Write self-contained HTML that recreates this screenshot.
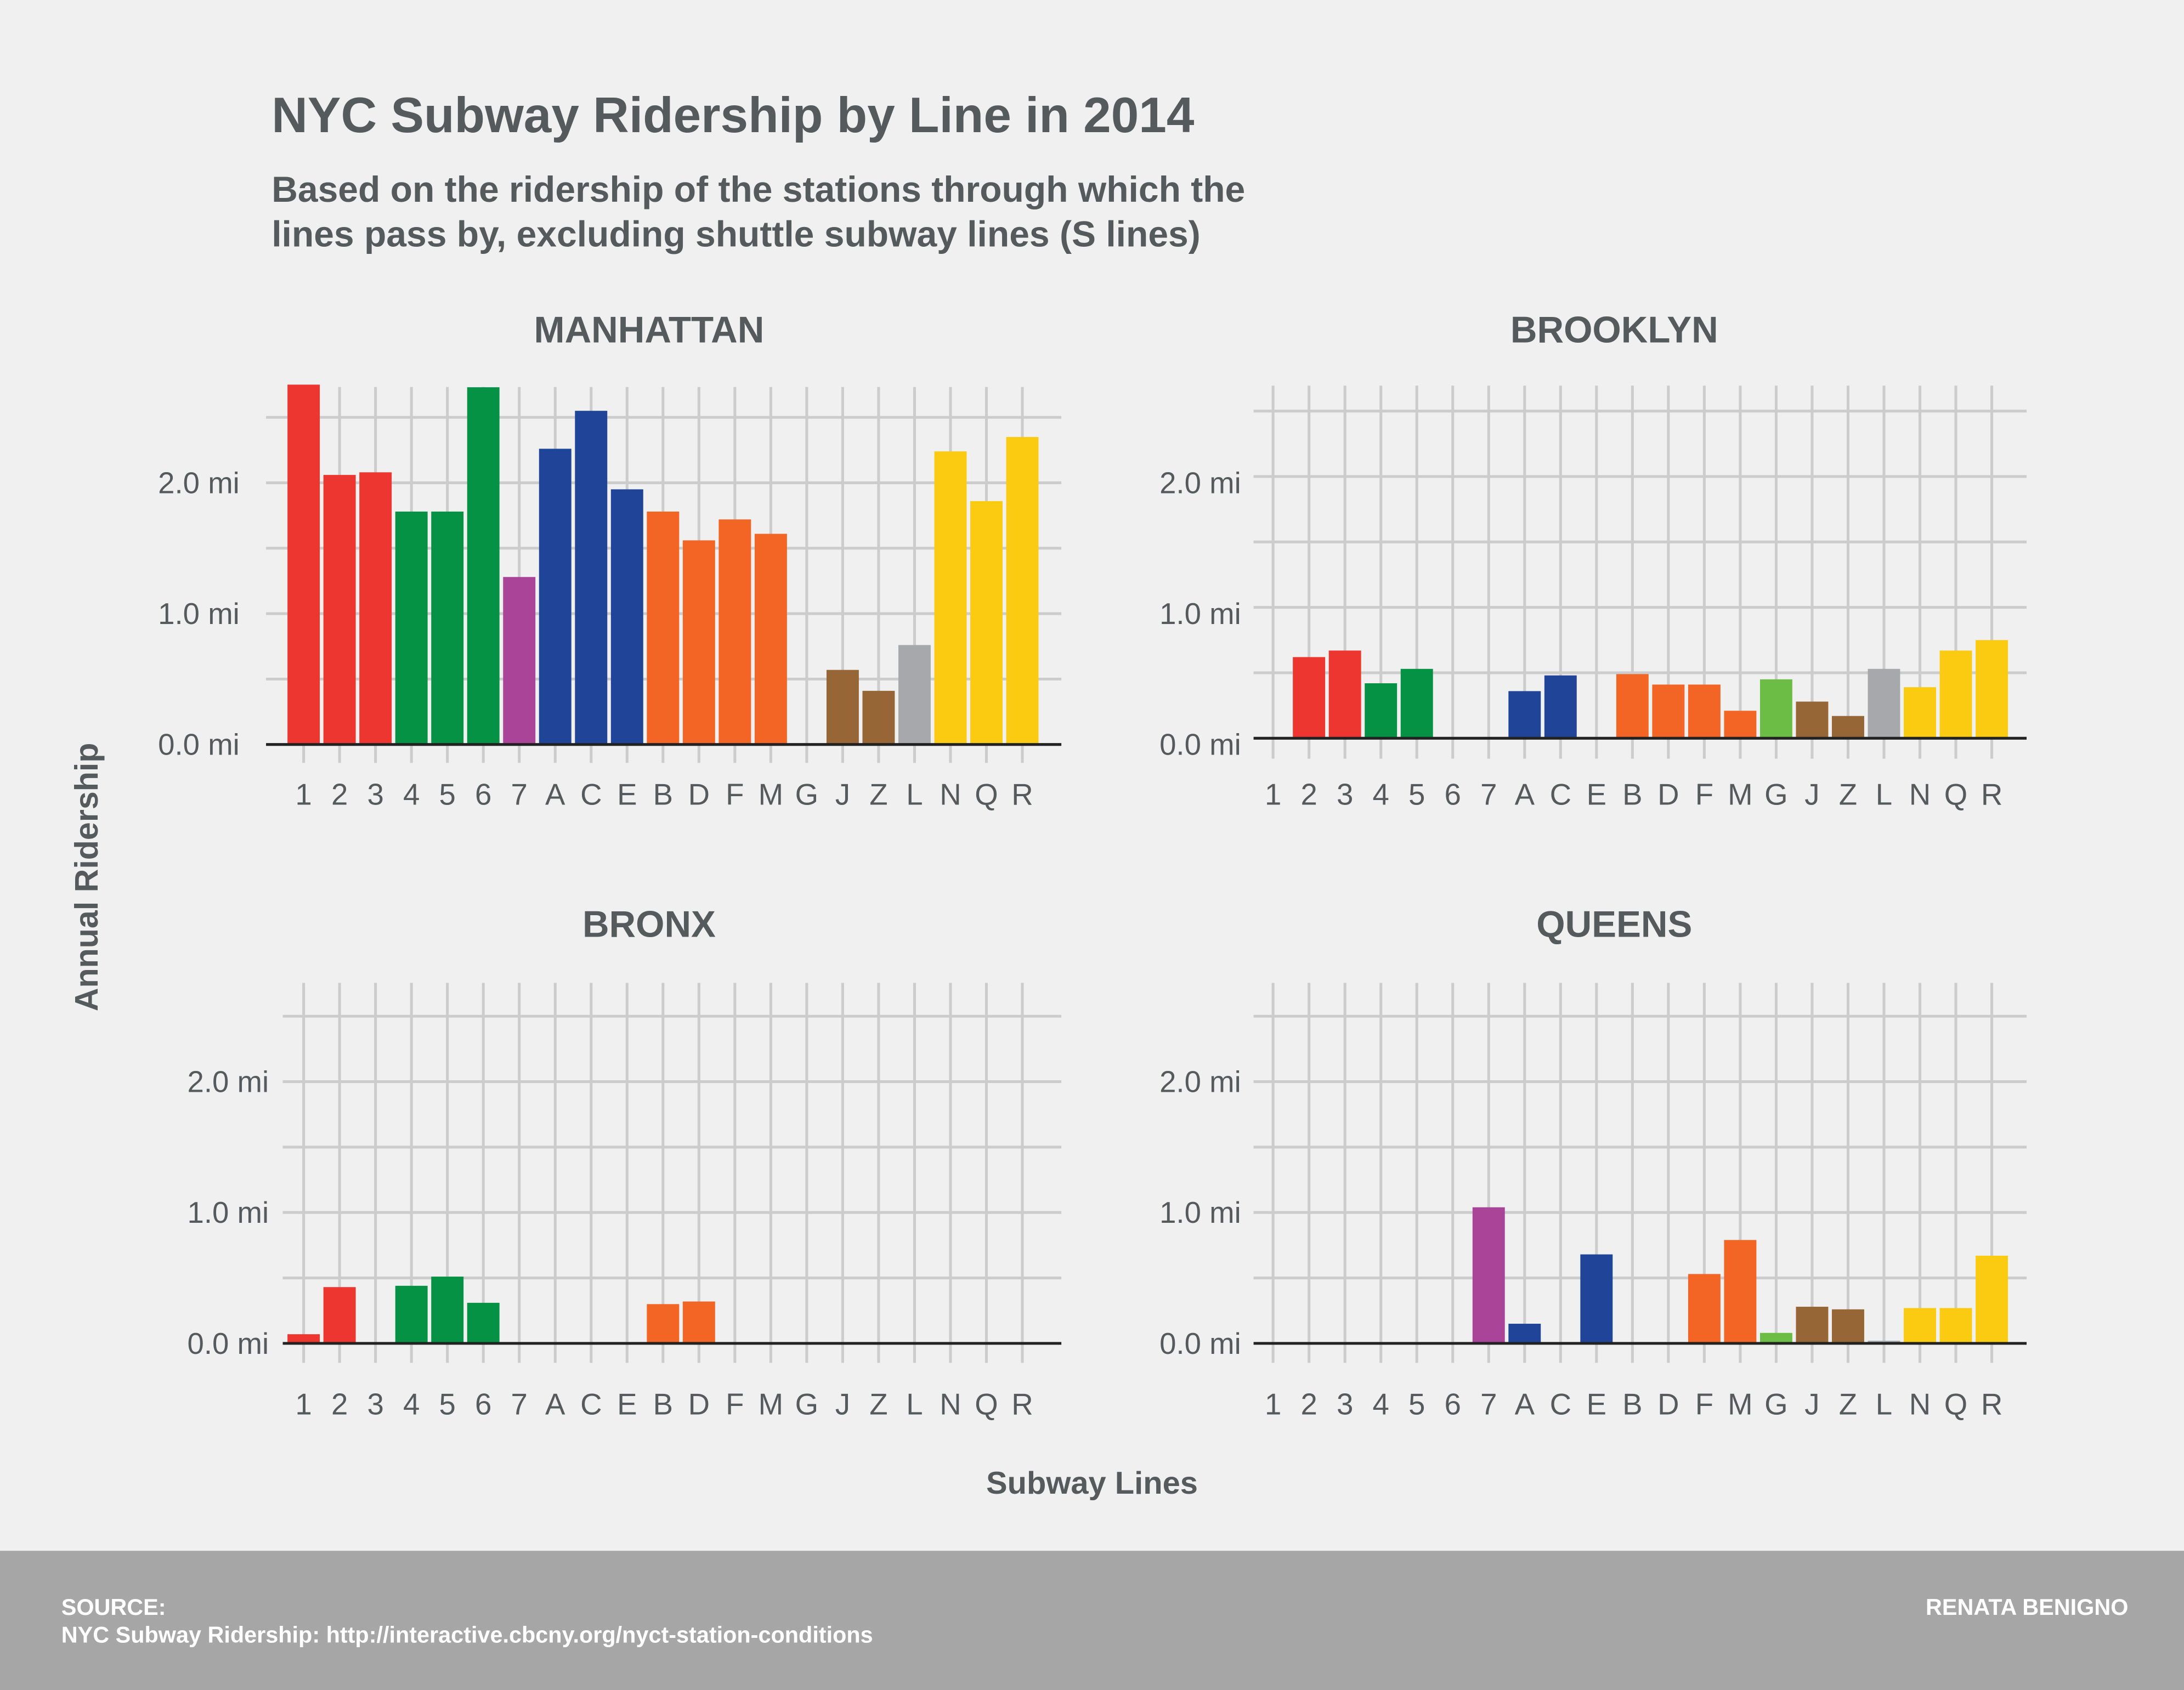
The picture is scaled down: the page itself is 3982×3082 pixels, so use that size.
<!DOCTYPE html>
<html><head><meta charset="utf-8"><style>
html,body{margin:0;padding:0;background:#f0f0f0;}
svg{display:block;}
text{font-family:"Liberation Sans",Arial,sans-serif;}
</style></head><body>
<svg id="chart" xmlns="http://www.w3.org/2000/svg" width="3982" height="3082" viewBox="0 0 1568 1214" preserveAspectRatio="none">
<rect x="0" y="0" width="1568" height="1214" fill="#f0f0f0"/>
<text x="195" y="95" font-size="35.8" font-weight="bold" fill="#555a5c">NYC Subway Ridership by Line in 2014</text>
<text x="195" y="145" font-size="26" font-weight="bold" fill="#555a5c">Based on the ridership of the stations through which the</text>
<text x="195" y="177" font-size="26" font-weight="bold" fill="#555a5c">lines pass by, excluding shuttle subway lines (S lines)</text>
<text transform="translate(70,630) rotate(-90)" text-anchor="middle" font-size="23.3" font-weight="bold" fill="#555a5c">Annual Ridership</text>
<text x="784" y="1073" text-anchor="middle" font-size="22.8" font-weight="bold" fill="#555a5c">Subway Lines</text>
<g id="panels"></g>
<rect x="0" y="1114" width="1568" height="100" fill="#a6a6a6"/>
<text x="44" y="1160" font-size="16.3" font-weight="bold" fill="#ffffff">SOURCE:</text>
<text x="44" y="1180" font-size="16.3" font-weight="bold" fill="#ffffff">NYC Subway Ridership: http://interactive.cbcny.org/nyct-station-conditions</text>
<text x="1528" y="1160" text-anchor="end" font-size="16.3" font-weight="bold" fill="#ffffff">RENATA BENIGNO</text>
</svg>
<script>
const categories = ["1","2","3","4","5","6","7","A","C","E","B","D","F","M","G","J","Z","L","N","Q","R"];
const manhattanValues = [2.75,2.06,2.08,1.78,1.78,2.73,1.28,2.26,2.55,1.95,1.78,1.56,1.72,1.61,0,0.57,0.41,0.76,2.24,1.86,2.35];
const brooklynValues  = [0,0.62,0.67,0.42,0.53,0,0,0.36,0.48,0,0.49,0.41,0.41,0.21,0.45,0.28,0.17,0.53,0.39,0.67,0.75];
const bronxValues     = [0.07,0.43,0,0.44,0.51,0.31,0,0,0,0,0.30,0.32,0,0,0,0,0,0,0,0,0];
const queensValues    = [0,0,0,0,0,0,1.04,0.15,0,0.68,0,0,0.53,0.79,0.08,0.28,0.26,0.02,0.27,0.27,0.67];
const yTicks = [0,1,2];
const yTickLabels = ["0.0 mi","1.0 mi","2.0 mi"];
const gridValues = [0.5,1,1.5,2,2.5];
const panelTitles = ["MANHATTAN","BROOKLYN","BRONX","QUEENS"];
const lineColors = {"1":"#ee3630","2":"#ee3630","3":"#ee3630","4":"#059245","5":"#059245","6":"#059245","7":"#aa4498","A":"#1f4498","C":"#1f4498","E":"#1f4498","B":"#f26524","D":"#f26524","F":"#f26524","M":"#f26524","G":"#6cbd45","J":"#966636","Z":"#966636","L":"#a6a8ab","N":"#fbcb12","Q":"#fbcb12","R":"#fbcb12"};

const NS = "http://www.w3.org/2000/svg";
const layouts = [
  {x0:191,x1:762,first:218,zero:534.8,labelZero:534.8,vtop:278,vbot:548,labelX:172,titleX:466,titleY:246,xLabY:578},
  {x0:900,x1:1455,first:914,zero:530.3,labelZero:534.8,vtop:277,vbot:545,labelX:891,titleX:1159,titleY:246,xLabY:578},
  {x0:203,x1:762,first:218,zero:965,labelZero:965,vtop:706,vbot:979,labelX:193,titleX:466,titleY:673,xLabY:1016},
  {x0:900,x1:1455,first:914,zero:965,labelZero:965,vtop:706,vbot:979,labelX:891,titleX:1159,titleY:673,xLabY:1016}
];
const seriesList = [manhattanValues, brooklynValues, bronxValues, queensValues];
const STEP = 25.8, BARW = 23.2, SCALE = 94;

function mk(tag, attrs, parent){
  const e = document.createElementNS(NS, tag);
  for (const k in attrs) e.setAttribute(k, attrs[k]);
  parent.appendChild(e);
  return e;
}
const root = document.getElementById("panels");
layouts.forEach((L, p) => {
  const vals = seriesList[p];
  const g = mk("g", {}, root);
  
  
  const xs = i => L.first + i * STEP;
  const ys = v => L.zero - v * SCALE;
  const t = mk("text", {x:L.titleX, y:L.titleY, "text-anchor":"middle", "font-size":26.5, "font-weight":"bold", fill:"#555a5c"}, g);
  t.textContent = panelTitles[p];
  
  
  gridValues.forEach(v => {
    const l = mk("line", {x1:L.x0, x2:L.x1, y1:ys(v), y2:ys(v), stroke:"#cccccc", "stroke-width":2}, g);
    
    
  });
  categories.forEach((c, i) => {
    const l = mk("line", {x1:xs(i), x2:xs(i), y1:L.vtop, y2:L.vbot, stroke:"#cccccc", "stroke-width":2}, g);
    
    
  });
  categories.forEach((c, i) => {
    if (vals[i] <= 0) return;
    const r = mk("rect", {x:xs(i) - BARW/2, y:ys(vals[i]), width:BARW, height:vals[i]*SCALE, fill:lineColors[c]}, g);
    
    
  });
  const z = mk("line", {x1:L.x0, x2:L.x1, y1:L.zero, y2:L.zero, stroke:"#222222", "stroke-width":2}, g);
  
  
  yTicks.forEach((v, k) => {
    const tx = mk("text", {x:L.labelX, y:L.labelZero - v*SCALE + 7.5, "text-anchor":"end", "font-size":21.5, fill:"#555a5c"}, g);
    tx.textContent = yTickLabels[k];
    
    
  });
  categories.forEach((c, i) => {
    const tx = mk("text", {x:xs(i), y:L.xLabY, "text-anchor":"middle", "font-size":21.5, fill:"#555a5c"}, g);
    tx.textContent = c;
    
    
  });
});
</script>
</body></html>
